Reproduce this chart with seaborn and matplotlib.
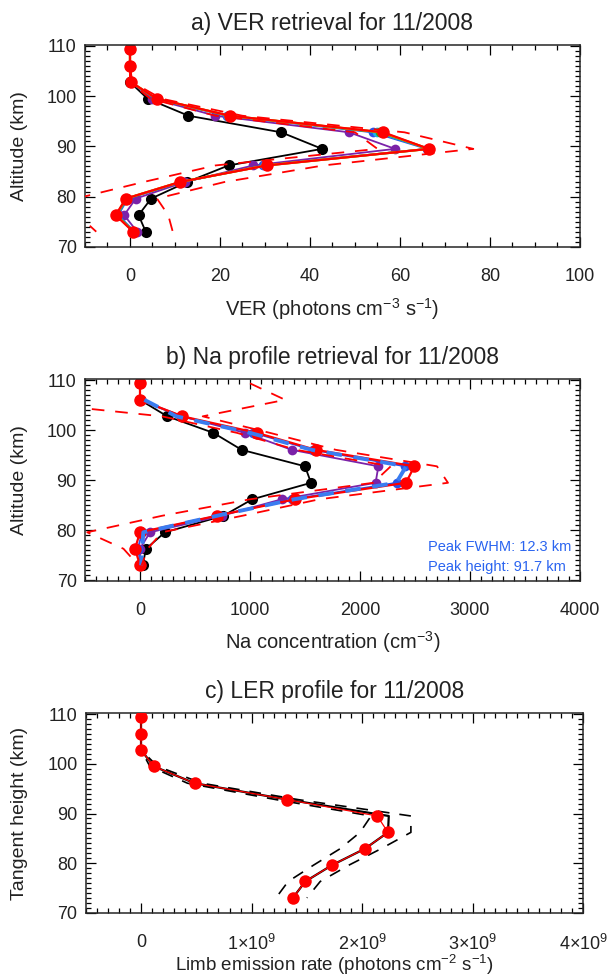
import numpy as np
import matplotlib
matplotlib.use('Agg')
import matplotlib.pyplot as plt
from matplotlib.ticker import MultipleLocator, FixedLocator, FixedFormatter
import seaborn as sns

# ---------------------------------------------------------
# DATA
# ---------------------------------------------------------
alt = [109.4, 106.1, 102.8, 99.5, 96.1, 92.8, 89.5, 86.2, 82.9, 79.6, 76.3, 73.0]

# a) VER (photons cm-3 s-1)
ver_black  = [0, 0, 0, 3.9, 13.0, 33.6, 42.7, 21.9, 12.7, 4.7, 1.9, 3.5]
ver_purple = [0, 0, 0.2, 5.0, 19.0, 48.7, 58.9, 27.4, 12.2, 1.3, -1.3, 1.6]
ver_blue   = [0, 0, 0.2, 5.5, 21.5, 53.9, 66.0, 29.6, 11.6, -0.5, -2.6, 1.0]
ver_cyan   = [0, 0, 0.2, 5.7, 21.8, 54.8, 66.3, 30.0, 11.4, -0.7, -2.8, 0.9]
ver_green  = [0, 0, 0.2, 5.8, 22.0, 55.6, 66.4, 30.2, 11.2, -0.8, -3.0, 0.8]
ver_orange = [0, 0, 0.2, 5.9, 22.1, 56.0, 66.4, 30.3, 11.1, -0.9, -3.1, 0.7]
ver_red    = [0, 0, 0.2, 5.9, 22.2, 56.3, 66.4, 30.4, 11.1, -0.9, -3.2, 0.7]
ver_lo     = [0, 0, 0, 4.5, 19.0, 50.0, 55.0, 19.0, 3.0, -12.0, -11.5, -7.5]
ver_hi     = [0, 0, 0.5, 7.0, 25.0, 61.0, 76.3, 43.0, 21.0, 6.0, 8.5, 9.5]

# b) Na concentration (cm-3)
na_black  = [0, 0, 248, 667, 924, 1500, 1555, 1021, 758, 227, 55, 24]
na_purple = [0, 0, 385, 955, 1379, 2167, 2142, 1288, 742, 91, 0, 0]
na_blue   = [0, 0, 370, 1030, 1570, 2410, 2333, 1380, 700, 20, -20, 10]
na_ltblue = [np.nan, 40, 330, 1000, 1560, 2420, 2330, 1400, 700, 30, 20, 10]
na_red    = [0, 0, 385, 1061, 1597, 2494, 2418, 1409, 697, 0, -45, 0]
na_lo     = [-1500, -1250, 200, 880, 1420, 2280, 2120, 1000, 200, -480, -150, -15]
na_hi     = [1000, 1320, 570, 1180, 1780, 2700, 2800, 1630, 930, 200, 70, 15]
peak_fwhm = 12.3
peak_height = 91.7

# c) LER (photons cm-2 s-1)
ler_black = [0, 0, 0, 0.115e9, 0.485e9, 1.324e9, 2.24e9, 2.233e9, 2.024e9, 1.727e9, 1.485e9, 1.373e9]
ler_red   = [0, 0, 0, 0.115e9, 0.485e9, 1.324e9, 2.136e9, 2.233e9, 2.024e9, 1.727e9, 1.485e9, 1.373e9]
ler_lo    = [0, 0, 0, 0.08e9, 0.42e9, 1.22e9, 2.08e9, 1.98e9, 1.80e9, 1.56e9, 1.33e9, 1.22e9]
ler_hi    = [0, 0, 0, 0.15e9, 0.55e9, 1.42e9, 2.44e9, 2.44e9, 2.17e9, 1.88e9, 1.62e9, 1.50e9]

ler_ticks = [0, 1e9, 2e9, 3e9, 4e9]
ler_ticklabels = ['0', r'1$\times$10$^{9}$', r'2$\times$10$^{9}$', r'3$\times$10$^{9}$', r'4$\times$10$^{9}$']

# ---------------------------------------------------------
# STYLE
# ---------------------------------------------------------
sns.set_style('ticks')
plt.rcParams['font.family'] = ['Liberation Sans', 'DejaVu Sans']
plt.rcParams['mathtext.fontset'] = 'custom'
plt.rcParams['mathtext.rm'] = 'Liberation Sans'
plt.rcParams['mathtext.it'] = 'Liberation Sans:italic'
plt.rcParams['mathtext.default'] = 'regular'

TXT = '#222222'
DASH = (0, (7, 6))


def line(ax, x, color, lw=1.3, ms=0, ls='-', z=2):
    sns.lineplot(x=x, y=alt, ax=ax, orient='y', sort=False, estimator=None,
                 color=color, linewidth=lw, linestyle=ls,
                 marker='o' if ms else None, markersize=ms,
                 markeredgewidth=0, legend=False, zorder=z)


def style_axes(ax, xlim, xmajor, xminor):
    ax.set_xlim(*xlim)
    ax.set_ylim(69.9, 110.2)
    ax.xaxis.set_major_locator(MultipleLocator(xmajor))
    ax.xaxis.set_minor_locator(MultipleLocator(xminor))
    ax.yaxis.set_major_locator(MultipleLocator(10))
    ax.yaxis.set_minor_locator(MultipleLocator(1))
    ax.tick_params(which='both', direction='in', top=True, right=True,
                   width=0.9, colors='black', labelcolor=TXT, labelsize=13)
    ax.tick_params(which='major', length=7)
    ax.tick_params(which='minor', length=3.5)
    ax.tick_params(axis='x', pad=15)
    ax.tick_params(axis='y', pad=6)
    for s in ax.spines.values():
        s.set_linewidth(1.1)
        s.set_visible(True)


fig = plt.figure(figsize=(6.08, 9.8), dpi=100)
ax_a = fig.add_axes([0.1398, 0.7477, 0.8141, 0.2064])
ax_b = fig.add_axes([0.1398, 0.4074, 0.8141, 0.2055])
ax_c = fig.add_axes([0.1410, 0.0681, 0.8186, 0.2041])

# ---------------------------------------------------------
# a) VER
# ---------------------------------------------------------
line(ax_a, ver_black, 'black', lw=1.3, ms=8)
line(ax_a, ver_purple, '#7b22a8', lw=1.3, ms=7)
line(ax_a, ver_blue, '#2a50e8', lw=1.3, ms=7)
line(ax_a, ver_cyan, '#19b4e6', lw=1.3, ms=7)
line(ax_a, ver_green, '#3aa800', lw=1.6, ms=7)
line(ax_a, ver_orange, '#ff9a00', lw=1.6, ms=7)
line(ax_a, ver_red, '#ff0000', lw=1.6, ms=9)
line(ax_a, ver_lo, '#ff0000', lw=1.3, ls=DASH, z=3)
line(ax_a, ver_hi, '#ff0000', lw=1.3, ls=DASH, z=3)
style_axes(ax_a, (-10, 100), 20, 5)
ax_a.set_title('a) VER retrieval for 11/2008', fontsize=16.5, color=TXT, pad=11)
ax_a.set_xlabel(r'VER (photons cm$^{-3}$ s$^{-1}$)', fontsize=14.5, color=TXT)
ax_a.set_ylabel('Altitude (km)', fontsize=14, color=TXT)

# ---------------------------------------------------------
# b) Na profile
# ---------------------------------------------------------
line(ax_b, na_black, 'black', lw=1.3, ms=8)
line(ax_b, na_purple, '#7b22a8', lw=1.3, ms=7)
line(ax_b, na_blue, '#2a50e8', lw=1.3, ms=7)
line(ax_b, na_red, '#ff0000', lw=1.6, ms=9)
line(ax_b, na_ltblue, '#3a7cf0', lw=2.8, ls=(0, (4, 3)), z=3)
line(ax_b, na_lo, '#ff0000', lw=1.3, ls=DASH, z=3)
line(ax_b, na_hi, '#ff0000', lw=1.3, ls=DASH, z=3)
style_axes(ax_b, (-500, 4000), 1000, 100)
ax_b.set_title('b) Na profile retrieval for 11/2008', fontsize=16.5, color=TXT, pad=11)
ax_b.set_xlabel(r'Na concentration (cm$^{-3}$)', fontsize=14.5, color=TXT)
ax_b.set_ylabel('Altitude (km)', fontsize=14, color=TXT)
ax_b.text(0.693, 0.169, f'Peak FWHM: {peak_fwhm} km', transform=ax_b.transAxes,
          color='#2a64f0', fontsize=10.5, va='center', ha='left')
ax_b.text(0.693, 0.069, f'Peak height: {peak_height} km', transform=ax_b.transAxes,
          color='#2a64f0', fontsize=10.5, va='center', ha='left')

# ---------------------------------------------------------
# c) LER profile
# ---------------------------------------------------------
line(ax_c, ler_black, 'black', lw=1.6, ms=0)
line(ax_c, ler_red, '#ff0000', lw=0.9, ms=9, z=4)
line(ax_c, ler_lo, 'black', lw=1.2, ls=DASH, z=3)
line(ax_c, ler_hi, 'black', lw=1.2, ls=DASH, z=3)
style_axes(ax_c, (-0.5e9, 4e9), 1e9, 0.1e9)
ax_c.xaxis.set_major_locator(FixedLocator(ler_ticks))
ax_c.xaxis.set_major_formatter(FixedFormatter(ler_ticklabels))
ax_c.set_title('c) LER profile for 11/2008', fontsize=16.5, color=TXT, pad=11)
ax_c.set_xlabel(r'Limb emission rate (photons cm$^{-2}$ s$^{-1}$)', fontsize=13.5, color=TXT)
ax_c.set_ylabel('Tangent height (km)', fontsize=14, color=TXT)

for ax in (ax_a, ax_b):
    ax.xaxis.set_label_coords(0.5, -0.24)
ax_c.xaxis.set_label_coords(0.5, -0.2)
for ax in (ax_a, ax_b, ax_c):
    ax.yaxis.set_label_coords(-0.115, 0.5)

fig.savefig('out.png', dpi=100)
